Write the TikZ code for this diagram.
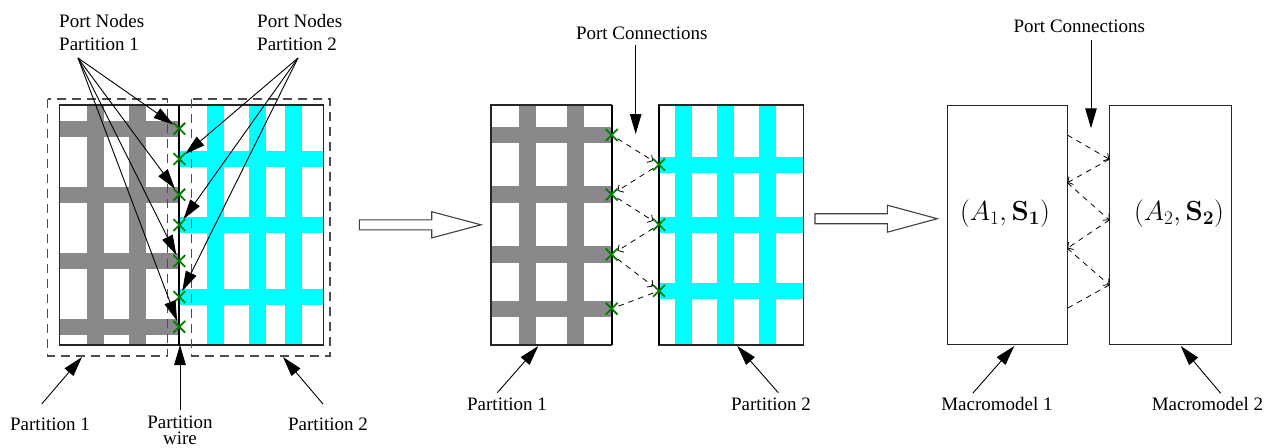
\documentclass[tikz,border=0pt]{standalone}
\usepackage[no-math]{fontspec}
\setmainfont{Liberation Serif}
\usetikzlibrary{arrows.meta,shapes.misc}

\definecolor{bargray}{RGB}{138,136,138}
\definecolor{barcyan}{RGB}{0,255,255}
\definecolor{portgreen}{RGB}{0,128,0}

\begin{document}
\begin{tikzpicture}[x=1pt,y=-1pt,
  lbl/.style={font=\fontsize{19}{23}\selectfont, inner sep=0pt},
  mathlbl/.style={font=\fontsize{25}{30}\selectfont, inner sep=0pt},
  ptr/.style={line width=0.9pt, -{Triangle[length=20pt,width=11.5pt]}},
  portx/.style={cross out, draw=portgreen, line width=1.8pt, minimum size=10pt, inner sep=0pt},
  linkdash/.style={line width=0.8pt, dash pattern=on 5.5pt off 5pt},
  linkarrow/.style={linkdash, -{Straight Barb[length=4pt,width=9pt]}},
  boxline/.style={line width=1.1pt, draw=black!85},
  wireline/.style={line width=2pt},
  partbox/.style={line width=1.1pt, draw=black!70, dash pattern=on 9pt off 6pt},
  gbar/.style={fill=bargray},
  cbar/.style={fill=barcyan},
  hollow/.style={draw=black!75, line width=1.1pt, fill=white, line join=miter}
]
\useasboundingbox (0,0) rectangle (1271,447);

% ---------------- Panel 1: partitioned grid ----------------
% grey mesh (partition 1)
\fill[gbar] (87.3,105) rectangle (104,345);
\fill[gbar] (129.3,105) rectangle (146,345);
\foreach \y in {128.7,194.7,261,326.8}
  \fill[gbar] (59.3,\y-8.2) rectangle (179.3,\y+8.2);
% cyan mesh (partition 2)
\fill[cbar] (207.3,105) rectangle (224,345);
\fill[cbar] (249.3,105) rectangle (266,345);
\fill[cbar] (285.3,105) rectangle (302,345);
\foreach \y in {159,225,297}
  \fill[cbar] (179.3,\y-8.2) rectangle (323.3,\y+8.2);
% outline and partition wire
\draw[boxline] (59.3,105) rectangle (323.3,345);
\draw[wireline] (179.3,105) -- (179.3,345);
% partition boundaries
\draw[partbox] (47.7,99) rectangle (167.3,356);
\draw[partbox] (191.7,99) rectangle (330,356);
% port nodes
\node[portx] (a1) at (179.3,128.7) {};
\node[portx] (a2) at (179.3,194.7) {};
\node[portx] (a3) at (179.3,261) {};
\node[portx] (a4) at (179.3,326.8) {};
\node[portx] (b1) at (179.3,159) {};
\node[portx] (b2) at (179.3,225) {};
\node[portx] (b3) at (179.3,297) {};

% labels
\node[lbl, align=left, anchor=north west] (pn1) at (59,14.5) {Port Nodes\\Partition 1};
\node[lbl, align=left, anchor=north west] (pn2) at (257,14.5) {Port Nodes\\Partition 2};
\coordinate (pn1s) at (78,58);
\coordinate (pn2s) at (298,58);
\foreach \t in {a1,a2,a3,a4}
  \draw[ptr] (pn1s) -- (\t);
\foreach \t in {b1,b2,b3}
  \draw[ptr] (pn2s) -- (\t);

\node[lbl, anchor=base] (lp1) at (50,430) {Partition 1};
\node[lbl, font=\fontsize{19}{16.5}\selectfont, align=center, anchor=north] (lpw) at (180,415.5) {Partition\\wire};
\node[lbl, anchor=base] (lp2) at (328,430) {Partition 2};
\coordinate (lp1s) at (41.7,404);  \coordinate (lp1t) at (82,357);
\coordinate (lpws) at (180,410);   \coordinate (lpwt) at (180,345);
\coordinate (lp2s) at (323,404);   \coordinate (lp2t) at (283,357);
\draw[ptr] (lp1s) -- (lp1t);
\draw[ptr] (lpws) -- (lpwt);
\draw[ptr] (lp2s) -- (lp2t);

% hollow arrow 1
\draw[hollow] (359.3,219.8) -- (431.7,219.8) -- (431.7,211.7) -- (481,224.8)
  -- (431.7,237.9) -- (431.7,229.8) -- (359.3,229.8) -- cycle;

% ---------------- Panel 2: separated partitions ----------------
\fill[gbar] (519.3,105) rectangle (536,345);
\fill[gbar] (567.3,105) rectangle (584,345);
\foreach \y in {135,194.5,254.5,308.7}
  \fill[gbar] (491,\y-8.2) rectangle (611.7,\y+8.2);
\fill[cbar] (675.3,105) rectangle (691.7,345);
\fill[cbar] (717.3,105) rectangle (734,345);
\fill[cbar] (759.3,105) rectangle (775.7,345);
\foreach \y in {164.7,224.7,290.8}
  \fill[cbar] (659,\y-8.2) rectangle (803.3,\y+8.2);
\draw[boxline] (491,105) rectangle (611.7,345);
\draw[boxline] (659,105) rectangle (803.3,345);
\draw[wireline] (611.7,105) -- (611.7,345);
\draw[wireline] (659,105) -- (659,345);

\node[portx] (mL1) at (611.7,135) {};
\node[portx] (mL2) at (611.7,194.5) {};
\node[portx] (mL3) at (611.7,254.5) {};
\node[portx] (mL4) at (611.7,308.7) {};
\node[portx] (mR1) at (659,164.7) {};
\node[portx] (mR2) at (659,224.7) {};
\node[portx] (mR3) at (659,290.8) {};

\draw[linkarrow] (mL1) -- (mR1);
\draw[linkarrow] (mR1) -- (mL2);
\draw[linkarrow] (mL2) -- (mR2);
\draw[linkarrow] (mR2) -- (mL3);
\draw[linkarrow] (mL3) -- (mR3);
\draw[linkdash]  (mR3) -- (mL4);

\node[lbl, anchor=base] (pc1) at (641.7,39.3) {Port Connections};
\coordinate (pc1s) at (635.7,45); \coordinate (pc1t) at (635.7,134);
\draw[ptr] (pc1s) -- (pc1t);

\node[lbl, anchor=base] (mp1) at (507,410.7) {Partition 1};
\node[lbl, anchor=base] (mp2) at (771,410.7) {Partition 2};
\coordinate (mp1s) at (497.3,392.7); \coordinate (mp1t) at (538.3,346);
\coordinate (mp2s) at (778.3,392.7); \coordinate (mp2t) at (737.3,346);
\draw[ptr] (mp1s) -- (mp1t);
\draw[ptr] (mp2s) -- (mp2t);

% hollow arrow 2
\draw[hollow] (815,213.7) -- (887.3,213.7) -- (887.3,205.2) -- (937.3,218.7)
  -- (887.3,232.2) -- (887.3,223.7) -- (815,223.7) -- cycle;

% ---------------- Panel 3: macromodels ----------------
\node[draw, boxline, minimum width=120pt, minimum height=239.3pt, inner sep=0pt] (mm1) at (1007.3,224.7) {};
\node[draw, boxline, minimum width=122.4pt, minimum height=239.3pt, inner sep=0pt] (mm2) at (1170.5,224.7) {};
\node[mathlbl] (m1) at (1005,213.3) {\scalebox{1.11}{$(A_1,\mathbf{S}_{\mathbf{1}})$}};
\node[mathlbl] (m2) at (1179,213.3) {\scalebox{1.11}{$(A_2,\mathbf{S}_{\mathbf{2}})$}};

\coordinate (rL1) at (1067.3,135);
\coordinate (rR1) at (1109.3,159.3);
\coordinate (rL2) at (1067.3,182.7);
\coordinate (rR2) at (1109.3,220);
\coordinate (rL3) at (1067.3,248.3);
\coordinate (rR3) at (1109.3,285);
\coordinate (rL4) at (1067.3,308.3);
\draw[linkarrow] (rL1) -- (rR1);
\draw[linkarrow] (rR1) -- (rL2);
\draw[linkarrow] (rL2) -- (rR2);
\draw[linkarrow] (rR2) -- (rL3);
\draw[linkarrow] (rL3) -- (rR3);
\draw[linkdash]  (rR3) -- (rL4);

\node[lbl, anchor=base] (pc2) at (1079.3,32.5) {Port Connections};
\coordinate (pc2s) at (1091,40); \coordinate (pc2t) at (1091,128.3);
\draw[ptr] (pc2s) -- (pc2t);

\node[lbl, anchor=base] (mm1l) at (997,410.7) {Macromodel 1};
\node[lbl, anchor=base] (mm2l) at (1207.5,410.7) {Macromodel 2};
\coordinate (mm1s) at (972.7,393.3); \coordinate (mm1t) at (1014.3,346);
\coordinate (mm2s) at (1220.7,393.3); \coordinate (mm2t) at (1180.7,346);
\draw[ptr] (mm1s) -- (mm1t);
\draw[ptr] (mm2s) -- (mm2t);
\end{tikzpicture}
\end{document}
